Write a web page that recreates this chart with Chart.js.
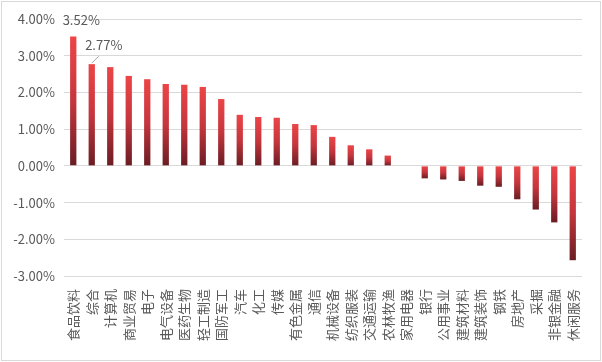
<!DOCTYPE html>
<html>
<head>
<meta charset="utf-8">
<script src="https://cdn.jsdelivr.net/npm/chart.js@4"></script>
<style>
  html, body { margin: 0; padding: 0; background: #fff; }
  #wrap { width: 602px; height: 362px; position: relative; }
</style>
</head>
<body>
<div id="wrap"><canvas id="chart" width="602" height="362"></canvas></div>
<script>
// ---------- DATA ----------
const sectors = [
  "食品饮料", "综合", "计算机", "商业贸易", "电子", "电气设备", "医药生物",
  "轻工制造", "国防军工", "汽车", "化工", "传媒", "有色金属", "通信",
  "机械设备", "纺织服装", "交通运输", "农林牧渔", "家用电器", "银行",
  "公用事业", "建筑材料", "建筑装饰", "钢铁", "房地产", "采掘", "非银金融", "休闲服务"
];
const changes = [
  3.52, 2.77, 2.69, 2.45, 2.36, 2.23, 2.21,
  2.15, 1.82, 1.39, 1.33, 1.31, 1.14, 1.11,
  0.79, 0.56, 0.45, 0.28, 0.00, -0.34,
  -0.37, -0.41, -0.54, -0.57, -0.91, -1.19, -1.54, -2.57
];
const yTicks = [-3, -2, -1, 0, 1, 2, 3, 4];
const labelled = [0, 1]; // bars with a value label

const FONT = "'Noto Sans CJK SC', 'Noto Sans', sans-serif";
const TEXT = "#595959";

// ---------- BAR GRADIENT ----------
function barFill(ctx) {
  const chart = ctx.chart;
  if (!chart.chartArea || ctx.dataIndex === undefined) return "#d93a3c";
  const y = chart.scales.y;
  const v = changes[ctx.dataIndex];
  const a = y.getPixelForValue(Math.max(v, 0));
  const b = y.getPixelForValue(Math.min(v, 0));
  if (b - a < 1) return "#d93a3c";
  const g = chart.ctx.createLinearGradient(0, a, 0, b);
  g.addColorStop(0, "#ec4547");
  g.addColorStop(0.5, "#c5363d");
  g.addColorStop(1, "#6a1d24");
  return g;
}

// ---------- EXTRAS: border + value labels ----------
const extras = {
  id: "extras",
  afterDatasetsDraw(chart) {
    const c = chart.ctx;
    const bars = chart.getDatasetMeta(0).data;
    c.save();
    c.font = "13px " + FONT;
    c.fillStyle = TEXT;
    c.textAlign = "center";
    c.textBaseline = "middle";
    // 3.52% sits above the first bar, a bit right
    const b0 = bars[labelled[0]];
    c.fillText(changes[labelled[0]].toFixed(2) + "%", b0.x + 8, b0.y - 17);
    // 2.77% with a leader line
    const b1 = bars[labelled[1]];
    c.fillText(changes[labelled[1]].toFixed(2) + "%", b1.x + 12, b1.y - 19);
    c.strokeStyle = "#a6a6a6";
    c.lineWidth = 1;
    c.beginPath();
    c.moveTo(b1.x, b1.y - 1);
    c.lineTo(b1.x + 7, b1.y - 8);
    c.stroke();
    c.restore();
  },
  afterDraw(chart) {
    const c = chart.ctx;
    c.save();
    c.strokeStyle = "#d9d9d9";
    c.lineWidth = 1;
    c.strokeRect(1.5, 1.5, chart.width - 3, chart.height - 3);
    c.restore();
  }
};

// ---------- CHART ----------
new Chart(document.getElementById("chart").getContext("2d"), {
  type: "bar",
  data: {
    labels: sectors,
    datasets: [{
      data: changes,
      backgroundColor: barFill,
      borderWidth: 0,
      barPercentage: 0.34,
      categoryPercentage: 1
    }]
  },
  options: {
    responsive: false,
    animation: false,
    layout: { padding: { top: 19, right: 20, left: 0, bottom: 0 } },
    plugins: { legend: { display: false }, tooltip: { enabled: false } },
    scales: {
      x: {
        grid: { display: false },
        border: { display: false },
        ticks: {
          color: TEXT,
          font: { family: FONT, size: 13 },
          minRotation: 90,
          maxRotation: 90,
          autoSkip: false,
          padding: 5
        },
        afterFit(s) { s.height = 86; }
      },
      y: {
        min: yTicks[0],
        max: yTicks[yTicks.length - 1],
        border: { display: false },
        grid: { color: "#d9d9d9", drawTicks: false },
        afterBuildTicks(s) { s.ticks = yTicks.map(v => ({ value: v })); },
        ticks: {
          color: TEXT,
          font: { family: FONT, size: 13 },
          padding: 9,
          callback: v => v.toFixed(2) + "%"
        },
        afterFit(s) { s.width = 64; }
      }
    }
  },
  plugins: [extras]
});
</script>
</body>
</html>
